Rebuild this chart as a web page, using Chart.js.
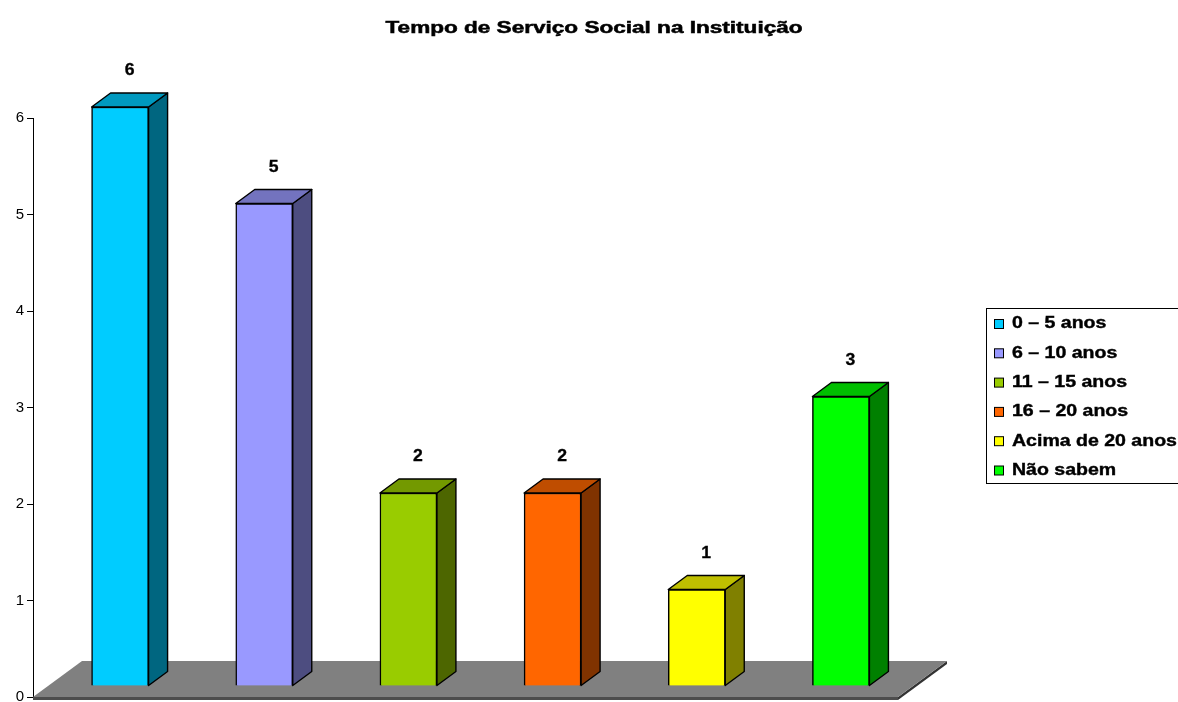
<!DOCTYPE html>
<html>
<head>
<meta charset="utf-8">
<script src="https://cdn.jsdelivr.net/npm/chart.js@4/dist/chart.umd.min.js"></script>
<style>
  body { margin: 0; background: #fff; }
  canvas { display: block; }
</style>
</head>
<body>
<canvas id="chart" width="1178" height="702"></canvas>
<script>
"use strict"

//data
const chartTitle = "Tempo de Serviço Social na Instituição";
const categories = ["0 – 5 anos", "6 – 10 anos", "11 – 15 anos", "16 – 20 anos", "Acima de 20 anos", "Não sabem"];
const values = [6, 5, 2, 2, 1, 3];
const yTicks = [0, 1, 2, 3, 4, 5, 6];

//colours (front face, top face, side face)
const frontColors = ["#00ccff", "#9999ff", "#99cc00", "#ff6600", "#ffff00", "#00ff00"];
const topColors = ["#0099bf", "#7373bf", "#739900", "#bf4d00", "#bfbf00", "#00bf00"];
const sideColors = ["#006680", "#4d4d80", "#4d6600", "#803300", "#808000", "#008000"];

const FONT = "'Liberation Sans', Arial, sans-serif";
const barShift = { x: 15, y: -11 };   // bars sit a bit back on the floor
const barDepth = { x: 19, y: -14 };
const floorDepth = { x: 49, y: -36 };

function poly(ctx, pts, fill, stroke) {
  ctx.beginPath();
  ctx.moveTo(pts[0][0], pts[0][1]);
  for (let i = 1; i < pts.length; i++) ctx.lineTo(pts[i][0], pts[i][1]);
  ctx.closePath();
  ctx.fillStyle = fill;
  ctx.fill();
  if (stroke) {
    ctx.strokeStyle = stroke;
    ctx.stroke();
  }
}

// the original text is drawn wider than normal, so stretch it sideways
function wideText(ctx, text, x, y, sx, align, heavy) {
  ctx.save();
  ctx.translate(x, y);
  ctx.scale(sx, 1);
  ctx.textAlign = align;
  ctx.fillText(text, 0, 0);
  if (heavy) {
    ctx.lineWidth = heavy;
    ctx.strokeStyle = ctx.fillStyle;
    ctx.strokeText(text, 0, 0);
  }
  ctx.restore();
}

//3d look: floor, top and side faces drawn around the bars chart.js lays out
const threeD = {
  id: "threeD",
  beforeDatasetsDraw(chart) {
    const ctx = chart.ctx;
    const a = chart.chartArea;
    ctx.save();
    ctx.lineJoin = "round";
    // floor slab
    poly(ctx, [[a.left, a.bottom], [a.right, a.bottom], [a.right, a.bottom + 3], [a.left, a.bottom + 3]], "#4d4d4d");
    poly(ctx, [[a.right, a.bottom], [a.right + floorDepth.x, a.bottom + floorDepth.y],
      [a.right + floorDepth.x, a.bottom + floorDepth.y + 3], [a.right, a.bottom + 3]], "#333");
    poly(ctx, [[a.left, a.bottom], [a.right, a.bottom], [a.right + floorDepth.x, a.bottom + floorDepth.y],
      [a.left + floorDepth.x, a.bottom + floorDepth.y]], "#808080");

    const meta = chart.getDatasetMeta(0);
    ctx.lineWidth = 1.4;
    meta.data.forEach((bar, i) => {
      const x1 = bar.x - bar.width / 2 + barShift.x;
      const x2 = bar.x + bar.width / 2 + barShift.x;
      const yt = bar.y + barShift.y;
      const yb = bar.base + barShift.y;
      poly(ctx, [[x2, yt], [x2 + barDepth.x, yt + barDepth.y], [x2 + barDepth.x, yb + barDepth.y], [x2, yb]], sideColors[i], "#000");
      poly(ctx, [[x1, yt], [x1 + barDepth.x, yt + barDepth.y], [x2 + barDepth.x, yt + barDepth.y], [x2, yt]], topColors[i], "#000");
    });
    ctx.restore();
  },
  beforeDatasetDraw(chart) {
    chart.ctx.save();
    chart.ctx.translate(barShift.x, barShift.y);
  },
  afterDatasetDraw(chart) {
    chart.ctx.restore();
  },
  afterDatasetsDraw(chart) {
    const ctx = chart.ctx;
    const meta = chart.getDatasetMeta(0);
    ctx.save();
    ctx.font = "bold 16px " + FONT;
    ctx.fillStyle = "#000";
    ctx.textBaseline = "middle";
    meta.data.forEach((bar, i) => {
      wideText(ctx, String(values[i]), bar.x + barShift.x + barDepth.x / 2, bar.y + barShift.y + barDepth.y - 22, 1.1, "center", 0.3);
    });
    ctx.restore();
  }
};

//title and legend box (legend partly cut off at the right, like the original)
const textParts = {
  id: "textParts",
  afterDraw(chart) {
    const ctx = chart.ctx;
    ctx.save();
    ctx.fillStyle = "#000";
    ctx.textBaseline = "middle";
    ctx.font = "bold 16px " + FONT;
    wideText(ctx, chartTitle, 594, 29, 1.41, "center", 0.5);

    const left = 986, top = 308, rowH = 29.3;
    ctx.strokeStyle = "#000";
    ctx.lineWidth = 1;
    ctx.strokeRect(left + 0.5, top + 0.5, 400, 175);
    ctx.font = "bold 16px " + FONT;
    categories.forEach((name, i) => {
      const cy = top + 16 + i * rowH;
      ctx.fillStyle = frontColors[i];
      ctx.fillRect(994.5, cy - 4.5, 9, 9);
      ctx.strokeStyle = "#000";
      ctx.lineWidth = 1;
      ctx.strokeRect(994.5, cy - 4.5, 9, 9);
      ctx.fillStyle = "#000";
      wideText(ctx, name, 1012, cy, 1.22, "left", 0.4);
    });
    ctx.restore();
  }
};

const ctx = document.getElementById("chart").getContext("2d");
const chart = new Chart(ctx, {
  type: "bar",
  data: {
    labels: categories,
    datasets: [{
      data: values,
      backgroundColor: frontColors,
      borderColor: "#000",
      borderWidth: 1.5,
      barThickness: 57
    }]
  },
  options: {
    responsive: false,
    animation: false,
    devicePixelRatio: 1,
    clip: false,
    layout: { padding: { top: 118, left: 0, right: 280, bottom: 5 } },
    plugins: {
      legend: { display: false },
      tooltip: { enabled: false },
      title: { display: false }
    },
    scales: {
      x: { display: false },
      y: {
        min: 0,
        max: 6,
        afterBuildTicks: (s) => { s.ticks = yTicks.map(v => ({ value: v })); },
        afterFit: (s) => { s.width = 33; s.paddingTop = 0; s.paddingBottom = 0; },
        grid: { drawOnChartArea: false, drawTicks: true, tickLength: 6, color: "#000" },
        border: { display: true, color: "#000", width: 1 },
        ticks: { color: "#000", padding: 3, font: { family: FONT, size: 15 } }
      }
    }
  },
  plugins: [threeD, textParts]
});
</script>
</body>
</html>
